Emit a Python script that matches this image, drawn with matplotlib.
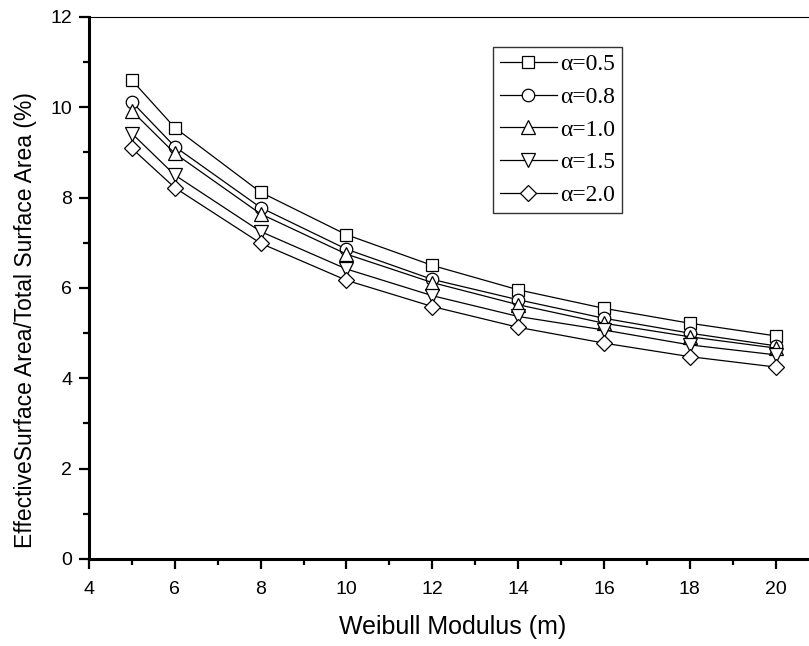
import matplotlib
matplotlib.use("Agg")
import matplotlib.pyplot as plt
from matplotlib.ticker import MultipleLocator

# Weibull modulus values
m_values = [5, 6, 8, 10, 12, 14, 16, 18, 20]

# Effective surface area / total surface area (%) for each alpha
ratio_a05 = [10.60, 9.55, 8.12, 7.18, 6.50, 5.96, 5.55, 5.22, 4.94]
ratio_a08 = [10.12, 9.13, 7.78, 6.86, 6.19, 5.74, 5.33, 5.00, 4.72]
ratio_a10 = [9.92, 8.98, 7.64, 6.75, 6.12, 5.63, 5.22, 4.92, 4.67]
ratio_a15 = [9.42, 8.50, 7.25, 6.42, 5.83, 5.37, 5.07, 4.74, 4.52]
ratio_a20 = [9.09, 8.22, 6.99, 6.17, 5.59, 5.13, 4.78, 4.48, 4.25]

series_labels = ["α=0.5", "α=0.8", "α=1.0", "α=1.5", "α=2.0"]
series_values = [ratio_a05, ratio_a08, ratio_a10, ratio_a15, ratio_a20]
series_markers = ["s", "o", "^", "v", "D"]
marker_sizes = [8.5, 9, 9.5, 9.5, 8]

x_ticks = [4, 6, 8, 10, 12, 14, 16, 18, 20]
y_ticks = [0, 2, 4, 6, 8, 10, 12]

plt.rcParams["font.family"] = ["Liberation Sans", "DejaVu Sans"]

fig = plt.figure(figsize=(8.09, 6.46), dpi=100)
ax = fig.add_axes([0.110, 0.1347, 0.890, 0.839])

for vals, lab, mk, ms in zip(series_values, series_labels, series_markers, marker_sizes):
    ax.plot(m_values, vals, color="black", linewidth=0.9, marker=mk,
            markersize=ms, markerfacecolor="white", markeredgecolor="black",
            markeredgewidth=0.9, label=lab)

ax.set_xlim(4, 20.78)
ax.set_ylim(0, 12)
ax.set_xticks(x_ticks)
ax.set_yticks(y_ticks)
ax.xaxis.set_minor_locator(MultipleLocator(1))
ax.yaxis.set_minor_locator(MultipleLocator(1))
ax.tick_params(which="major", direction="out", length=7, width=1.6,
               labelsize=14)
ax.tick_params(axis="x", which="major", pad=9)
ax.tick_params(axis="y", which="major", pad=5)
ax.tick_params(which="minor", direction="out", length=4, width=1.6)
ax.tick_params(axis="x", top=False)
ax.tick_params(axis="y", right=False)

ax.spines["left"].set_linewidth(2.2)
ax.spines["bottom"].set_linewidth(2.2)
ax.spines["top"].set_linewidth(0.8)
ax.spines["right"].set_visible(False)

ax.set_xlabel("Weibull Modulus (m)", fontsize=18)
ax.xaxis.set_label_coords(0.505, -0.104)
ax.set_ylabel("EffectiveSurface Area/Total Surface Area (%)", fontsize=16.5)
ax.yaxis.set_label_coords(-0.072, 0.44)

leg = ax.legend(loc="upper left", bbox_to_anchor=(0.561, 0.945),
                prop={"family": "Liberation Serif", "size": 17},
                frameon=True, fancybox=False, handlelength=2.4,
                handletextpad=0.15, labelspacing=0.47, borderpad=0.3,
                borderaxespad=0.0)
leg.get_frame().set_edgecolor("black")
leg.get_frame().set_linewidth(1.0)

fig.savefig("out.png", dpi=100)
